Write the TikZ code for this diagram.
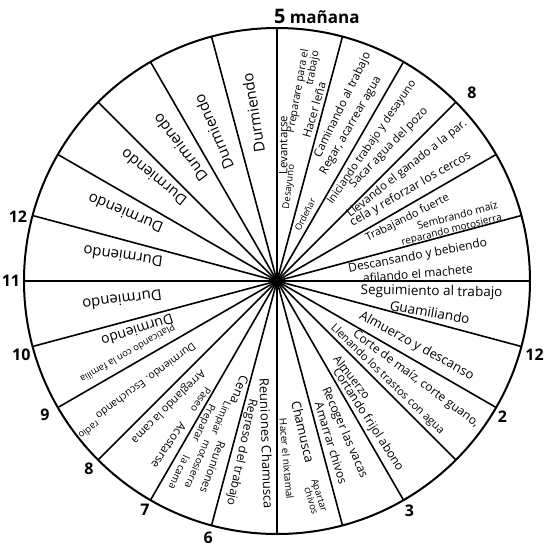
\documentclass[tikz,border=0pt]{standalone}
\usepackage{fontspec}
\setmainfont{Open Sans}
\usetikzlibrary{positioning}

\begin{document}
\begin{tikzpicture}[
    x=1pt, y=1pt,
    rim/.style={line width=2pt},
    spoke/.style={line width=1.6pt},
    hr/.style={font=\fontsize{16}{16}\selectfont\bfseries, inner sep=0pt},
    txt/.style={inner sep=0pt, font=\fontsize{#1}{#1}\selectfont},
    txt/.default=12,
    durm/.style={inner sep=0pt, font=\fontsize{15}{15}\selectfont},
  ]
  \useasboundingbox (-277,-269) rectangle (273,281);
  \coordinate (c) at (0,0);
  \draw[rim] (c) circle (253pt);
  \foreach \a in {0,15,...,345}
    \coordinate (s\a) at (\a:253);
  \foreach \a in {0,15,...,345}
    \draw[spoke] (c) -- (s\a);
  \fill (c) circle (4pt);

  \node[hr, anchor=west] (h5) at (-3,265) {{\fontsize{20}{20}\selectfont 5}\ \fontsize{17}{17}\selectfont mañana};
  \node[hr] (h8a)  at (44:271)   {8};
  \node[hr] (h12a) at (-16:268)  {12};
  \node[hr] (h2)   at (-31:263)  {2};
  \node[hr] (h3)   at (-60:265)  {3};
  \node[hr] (h6)   at (-105:266) {6};
  \node[hr] (h7)   at (-120:264) {7};
  \node[hr] (h8b)  at (-135:266) {8};
  \node[hr] (h9)   at (-150:268) {9};
  \node[hr] (h10)  at (-164:266) {10};
  \node[hr] (h11)  at (180:266)  {11};
  \node[hr] (h12b) at (166:267)  {12};

  \node[txt=11.5, rotate=90] (lev) at (87.3:136) {Levantarse};
  \node[txt=9.5, rotate=83] (des) at (82.5:95) {Desayuno};
  \node[txt=10.5, rotate=80, align=right] (prep) at (82:191) {Preparare para el\\trabajo};
  \node[txt=11.5, rotate=74] (lena) at (77.8:175) {Hacer leña};
  \node[txt=9, rotate=63]  (ord)  at (67:72)    {Ordeñar};
  \node[txt=11.5, rotate=64] (cam) at (69.5:188) {Caminando al trabajo};
  \node[txt=11.5, rotate=60] (reg) at (64.5:172) {Regar, acarrear agua};
  \node[txt=11, rotate=55.4] (ini) at (55.6:168) {Iniciando trabajo y desayuno};
  \node[txt=11.5, rotate=46] (sac) at (50:174) {Sacar agua del pozo};
  \node[txt=11.5, rotate=38.5] (llev) at (40.8:172) {Llevando el ganado a la par.};
  \node[txt=12, rotate=30] (cerc) at (34.5:162) {cela y reforzar los cercos};
  \node[txt=11, rotate=27] (trab) at (25.8:145) {Trabajando fuerte};
  \node[txt=10.5, rotate=15] (semb) at (20:192) {Sembrando maíz};
  \node[txt=10, rotate=14] (rep) at (16.2:182) {reparando motosierra};
  \node[txt, rotate=10.7] (desc) at (10:143) {Descansando y bebiendo};
  \node[txt, rotate=5]  (afil) at (3:141)  {afilando el machete};
  \node[txt=13.5, rotate=-1] (seg)  at (-4.1:155) {Seguimiento al trabajo};
  \node[txt=13.5, rotate=-10] (guam) at (-11.5:156) {Guamiliando};
  \node[txt=13, rotate=-28.7] (alm) at (-25:154) {Almuerzo y descanso};
  \node[txt=12, rotate=-36.5] (corte) at (-35.2:170) {Corte de maíz, corte guano,};
  \node[txt=11, rotate=-44] (llen) at (-41.8:148) {Llenando los trastos con agua};
  \node[txt=11.5, rotate=-52] (almb) at (-52:122) {Almuerzo};
  \node[txt, rotate=-57] (frij) at (-56.8:166) {Cortando frijol abono};
  \node[txt, rotate=-66.5] (vac) at (-66:166) {Recoger las vacas};
  \node[txt, rotate=-73] (amar) at (-71.5:171) {Amarrar chivos};
  \node[txt=13, rotate=-77] (chamb) at (-80.2:153) {Chamusca};
  \node[txt=9.5, rotate=-73, align=right] (apar) at (-80:219) {Apartar\\chivos};
  \node[txt=10, rotate=-85] (nixt) at (-86.9:178) {Hacer el nixtamal};
  \node[txt=13, rotate=-88] (reun) at (-93.7:163) {Reuniones Chamusca};
  \node[txt, rotate=-102] (regr) at (-101.7:175) {Regreso del trabajo};
  \node[txt=12.5, rotate=-112] (cena) at (-109:115) {Cena};
  \node[txt=10, rotate=-113] (limp) at (-112.5:148) {Limpiar};
  \node[txt=11, rotate=-110] (reunb) at (-109:197) {Reuniones};
  \node[txt=10, rotate=-115] (prepb) at (-117.5:160) {Preparar};
  \node[txt=10, rotate=-113] (moto) at (-113.3:200) {motosierra};
  \node[txt=10, rotate=-115] (lacama) at (-117:215) {la cama};
  \node[txt=10, rotate=-123] (paseo) at (-122.6:141) {Paseo};
  \node[txt=11.5, rotate=-124] (acos) at (-123.3:197) {Acostarse};
  \node[txt=11, rotate=-135] (arre) at (-131:166) {Arreglando la cama};
  \node[txt=10.5, rotate=-143.5] (esc) at (-142.5:165) {Durmiendo. Escuchando};
  \node[txt=9.5, rotate=-143.5] (radio) at (-141.5:240) {radio};
  \node[txt=9.5, rotate=-150] (plat) at (-154:166) {Platicando con la familia};

  \foreach \ang/\rad/\rot [count=\i] in {98/170/99, 113/162/113, 126/165/127, 140/161/141,
      156/166/157, 171/156/172, -173/156/-173}
    \node[durm, rotate=\rot] (d\i) at (\ang:\rad) {Durmiendo};
  \node[txt=14, rotate=-162] (d8) at (-160.5:148) {Durmiendo};
\end{tikzpicture}
\end{document}
